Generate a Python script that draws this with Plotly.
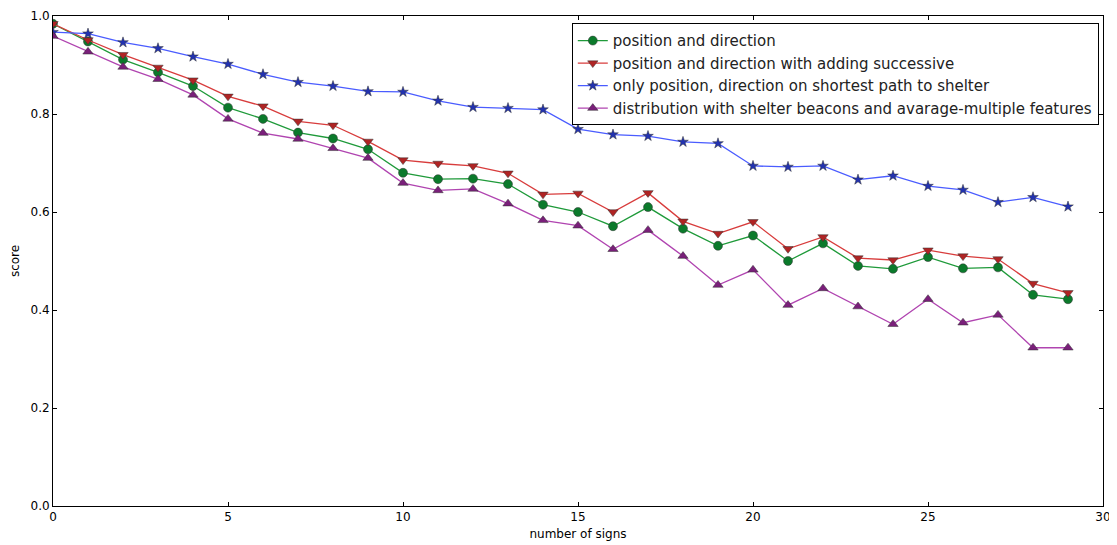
import plotly.graph_objects as go

signs = list(range(30))

pos_dir = [0.984, 0.948, 0.911, 0.885, 0.857, 0.813, 0.790, 0.762, 0.750, 0.728,
           0.680, 0.667, 0.668, 0.657, 0.615, 0.600, 0.571, 0.610, 0.566, 0.531,
           0.552, 0.500, 0.536, 0.490, 0.484, 0.508, 0.485, 0.487, 0.431, 0.422]
pos_dir_succ = [0.984, 0.951, 0.921, 0.895, 0.869, 0.836, 0.816, 0.785, 0.777, 0.744,
                0.706, 0.699, 0.694, 0.679, 0.636, 0.638, 0.600, 0.639, 0.581, 0.556,
                0.580, 0.525, 0.549, 0.506, 0.502, 0.522, 0.510, 0.504, 0.454, 0.435]
only_pos = [0.967, 0.964, 0.946, 0.934, 0.917, 0.902, 0.881, 0.865, 0.857, 0.846,
            0.845, 0.827, 0.814, 0.812, 0.809, 0.769, 0.758, 0.755, 0.743, 0.740,
            0.694, 0.692, 0.694, 0.666, 0.674, 0.653, 0.645, 0.620, 0.630, 0.611]
distribution = [0.959, 0.927, 0.896, 0.871, 0.839, 0.790, 0.761, 0.749, 0.730, 0.710,
                0.659, 0.644, 0.647, 0.617, 0.583, 0.572, 0.524, 0.563, 0.510, 0.451,
                0.482, 0.410, 0.444, 0.407, 0.371, 0.422, 0.374, 0.390, 0.323, 0.323]

names = [
    "position and direction",
    "position and direction with adding successive",
    "only position, direction on shortest path to shelter",
    "distribution with shelter beacons and avarage-multiple features",
]
series = [pos_dir, pos_dir_succ, only_pos, distribution]
line_colors = ["#1f9a3a", "#d83c3c", "#4a5cff", "#b044b0"]
marker_colors = ["#0b7a2b", "#b02424", "#2232b0", "#7a1f7a"]
symbols = ["circle", "triangle-down", "star", "triangle-up"]
sizes = [9, 9, 8, 9]

fig = go.Figure()
for name, ys, lc, mc, sym, sz in zip(names, series, line_colors, marker_colors, symbols, sizes):
    fig.add_trace(go.Scatter(
        x=signs, y=ys, name=name, mode="lines+markers",
        line=dict(color=lc, width=1.3),
        marker=dict(symbol=sym, size=sz, color=mc, line=dict(color="#333333", width=0.5)),
    ))

axis_common = dict(
    showline=True, linecolor="black", linewidth=1, mirror="ticks",
    ticks="inside", ticklen=4, tickcolor="black", showgrid=False, zeroline=False,
    tickfont=dict(family="DejaVu Sans", size=12, color="black"),
    automargin=False,
)
fig.update_xaxes(range=[0, 30], tickvals=[0, 5, 10, 15, 20, 25, 30],
                 title=dict(text="number of signs", font=dict(family="DejaVu Sans", size=12, color="black"), standoff=6),
                 **axis_common)
fig.update_yaxes(range=[0, 1.0], tickvals=[0, 0.2, 0.4, 0.6, 0.8, 1.0], tickformat=".1f",
                 title=dict(text="score", font=dict(family="DejaVu Sans", size=12, color="black"), standoff=8),
                 **axis_common)

# the page body adds an 8px offset, so the figure is sized/margined to compensate
fig.update_layout(
    width=1109, height=537,
    margin=dict(l=45, r=14, t=8, b=39),
    plot_bgcolor="white", paper_bgcolor="white",
    font=dict(family="DejaVu Sans", color="black"),
    legend=dict(x=0.996, y=0.985, xanchor="right", yanchor="top",
                bordercolor="black", borderwidth=1, bgcolor="white",
                font=dict(family="DejaVu Sans", size=15, color="#222222"),
                tracegroupgap=0),
    showlegend=True,
)

fig.write_html("out.html")
